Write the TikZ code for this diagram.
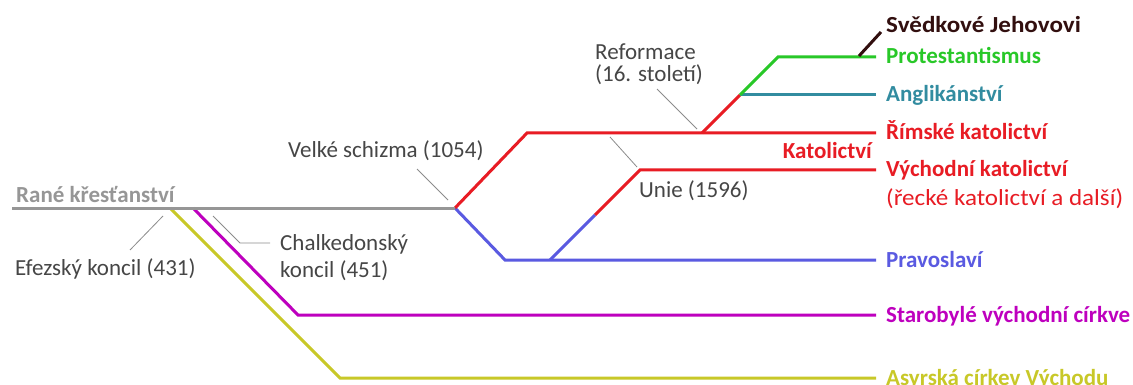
\documentclass[tikz,border=0pt]{standalone}
\usepackage{fontspec}
\setmainfont{Carlito}
\newfontfamily\widefont[FakeStretch=1.09]{Carlito}
\definecolor{earlygray}{RGB}{150,150,150}
\definecolor{notegray}{RGB}{70,70,70}
\definecolor{ptrgray}{RGB}{140,140,140}
\definecolor{cred}{RGB}{232,28,36}
\definecolor{cblue}{RGB}{90,90,225}
\definecolor{cgreen}{RGB}{40,200,40}
\definecolor{cteal}{RGB}{50,140,160}
\definecolor{cmag}{RGB}{190,0,190}
\definecolor{cyel}{RGB}{200,200,40}
\definecolor{cjeh}{RGB}{50,15,15}
\begin{document}
\begin{tikzpicture}[x=1pt,y=-1pt,
  branch/.style={line width=3pt},
  ptr/.style={draw=ptrgray,line width=0.8pt},
  lab/.style={anchor=base west,inner xsep=10pt,inner ysep=0pt,font=\fontsize{23}{26}\selectfont\bfseries},
  note/.style={anchor=base west,inner sep=0pt,text=notegray,font=\fontsize{23}{26}\selectfont}]
\useasboundingbox (0,0) rectangle (1133,385);
\fill[white] (0,0) rectangle (1133,385);
% junctions
\coordinate (start) at (12,208);
\coordinate (schism) at (455,208);
\coordinate (efez) at (170,208);
\coordinate (chalk) at (193,208);
\coordinate (redTop) at (527,133);
\coordinate (blueBot) at (505,260);
\coordinate (unieB) at (550,260);
\coordinate (unieMid) at (595,215);
\coordinate (unieT) at (640,170);
\coordinate (refB) at (702,133);
\coordinate (refM) at (740,95);
\coordinate (refT) at (778,57);
\coordinate (jehB) at (859,56);
\coordinate (jehT) at (881,32);
\coordinate (magC) at (298,315);
\coordinate (yelC) at (340,378);
% right labels
\node[lab,text=cjeh,font=\fontsize{23}{26}\selectfont\widefont\bfseries] (jeh) at (876,33) {Svědkové Jehovovi};
\node[lab,text=cgreen] (prot) at (876,64) {Protestantismus};
\node[lab,text=cteal] (angl) at (876,102) {Anglikánství};
\node[lab,text=cred] (rim) at (876,140) {Římské katolictví};
\node[lab,text=cred] (vych) at (876,177) {Východní katolictví};
\node[lab,text=cred,font=\fontsize{23}{26}\selectfont\widefont] (rek) at (876,205) {(řecké katolictví a další)};
\node[lab,text=cblue] (prav) at (876,267) {Pravoslaví};
\node[lab,text=cmag] (star) at (876,322) {Starobylé východní církve};
\node[lab,text=cyel] (asyr) at (876,385) {Asyrská církev Východu};
\node[lab,anchor=base east,inner xsep=0pt,text=cred] (kat) at (872,159) {Katolictví};
% notes
\node[note,text=earlygray,font=\fontsize{23}{26}\selectfont\bfseries] (rane) at (16,202) {Rané křesťanství};
\node[note] (schlbl) at (288,158) {Velké schizma (1054)};
\node[note] (reflbl) at (595,60) {Reformace};
\node[note] (reflbl2) at (595,82) {(16. století)};
\node[note] (unielbl) at (639,197) {Unie (1596)};
\node[note] (efezlbl) at (15,275) {Efezský koncil (431)};
\node[note] (chalklbl) at (280,250) {Chalkedonský};
\node[note] (chalklbl2) at (280,277) {koncil (451)};
% branches
\draw[branch,cyel] (efez) -- (yelC) -- (yelC -| asyr.west);
\draw[branch,cmag] (chalk) -- (magC) -- (magC -| star.west);
\draw[branch,cblue] (schism) -- (blueBot) -- (blueBot -| prav.west);
\draw[branch,cblue] (unieB) -- (unieMid);
\draw[branch,cred] (unieMid) -- (unieT) -- (unieT -| vych.west);
\draw[branch,cred] (schism) -- (redTop) -- (redTop -| rim.west);
\draw[branch,cred] (refB) -- (refM);
\draw[branch,cteal] (refM) -- (refM -| angl.west);
\draw[branch,cgreen] (refM) -- (refT) -- (refT -| prot.west);
\draw[branch,cjeh] (jehB) -- (jehT);
\draw[branch,earlygray] (start) -- (schism);
% pointers
\coordinate (p1a) at (417,169); \coordinate (p1b) at (448,200);
\draw[ptr] (p1a) -- (p1b);
\coordinate (p2a) at (163,216); \coordinate (p2b) at (130,250);
\draw[ptr] (p2a) -- (p2b);
\coordinate (p3a) at (213,216); \coordinate (p3b) at (240,243); \coordinate (p3c) at (270,243);
\draw[ptr] (p3a) -- (p3b) -- (p3c);
\coordinate (p4a) at (610,137); \coordinate (p4b) at (637,167);
\draw[ptr] (p4a) -- (p4b);
\coordinate (p5a) at (657,89); \coordinate (p5b) at (697,129);
\draw[ptr] (p5a) -- (p5b);
\end{tikzpicture}
\end{document}
